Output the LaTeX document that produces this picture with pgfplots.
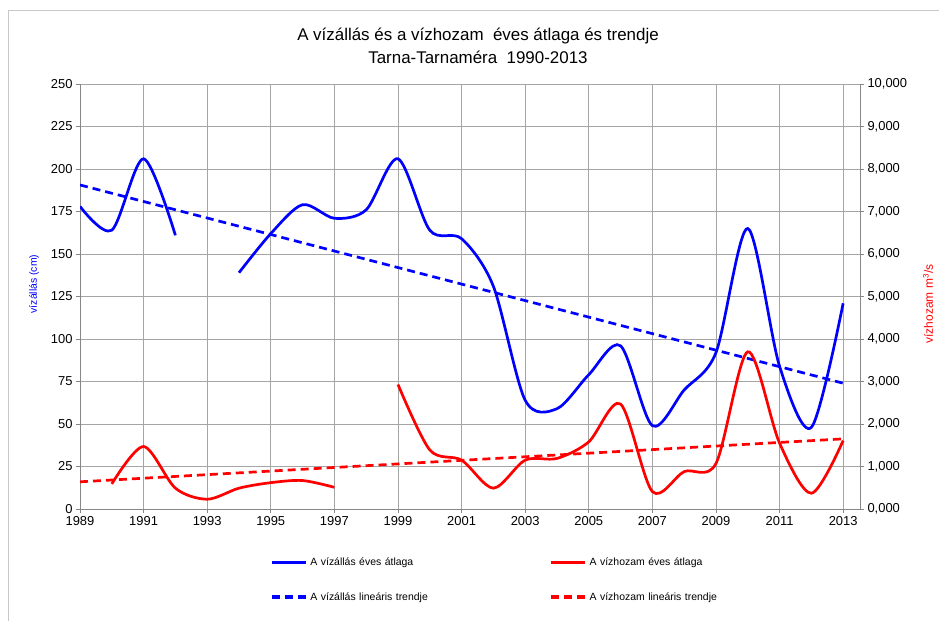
\documentclass[border=0pt]{standalone}
\usepackage{pgfplots}
\pgfplotsset{compat=1.18}
\usepackage{fontspec}
\setmainfont{Liberation Sans}
\definecolor{gridgray}{RGB}{165,165,165}
\definecolor{axgray}{RGB}{135,135,135}
\definecolor{framegray}{RGB}{200,200,200}
\begin{document}
\begin{tikzpicture}
\path[use as bounding box] (0bp,0bp) rectangle (939bp,621bp);
\draw[framegray, line width=1bp] (8bp,-5bp) -- (8bp,610bp) -- (945bp,610bp);
\node[align=center, font=\fontsize{17}{23}\selectfont] at (478bp,575bp) {A vízállás és a vízhozam\ \ éves átlaga és trendje\\Tarna-Tarnaméra\ \ 1990-2013};
\node[rotate=90, blue, font=\fontsize{10.5}{12}\selectfont] at (34bp,337bp) {vízállás (cm)};
\node[rotate=90, red, font=\fontsize{12}{14}\selectfont] at (928bp,317bp) {vízhozam m\textsuperscript{3}/s};
\begin{axis}[
  at={(80bp,112bp)}, anchor=south west, scale only axis,
  width=780bp, height=425bp,
  xmin=1989, xmax=2013.53, ymin=0, ymax=250,
  xtick={1989,1991,...,2013}, ytick={0,25,...,250},
  axis x line*=bottom, axis y line*=left,
  grid=major, grid style={gridgray, line width=0.8bp},
  axis line style={axgray, line width=0.8bp},
  tick style={axgray, line width=0.8bp},
  tick align=outside, major tick length=4bp,
  /pgf/number format/assume math mode=true,
  xticklabel style={/pgf/number format/1000 sep={}},
  ticklabel style={font=\fontsize{13}{13}\selectfont},
]
\addplot[blue, line width=2.7bp, smooth, tension=0.5] coordinates {
 (1989,178) (1990,164) (1991,206) (1992,161)};
\addplot[blue, line width=2.7bp, smooth, tension=0.5] coordinates {
 (1994,139) (1995,162) (1996,179) (1997,171) (1998,176) (1999,206) (2000,164)
 (2001,159) (2002,131) (2003,64) (2004,59) (2005,79) (2006,96) (2007,49)
 (2008,70) (2009,92) (2010,165) (2011,84) (2012,48) (2013,121)};
\addplot[blue, line width=2.7bp, dash pattern=on 8bp off 5bp] coordinates {
 (1989,190.6) (2013,74)};
\end{axis}
\begin{axis}[
  at={(80bp,112bp)}, anchor=south west, scale only axis,
  width=780bp, height=425bp,
  xmin=1989, xmax=2013.53, ymin=0, ymax=10,
  ytick={0,1,...,10},
  axis x line=none, axis y line*=right,
  axis line style={axgray, line width=0.8bp},
  tick style={axgray, line width=0.8bp},
  tick align=outside, major tick length=4bp,
  yticklabel style={font=\fontsize{13}{13}\selectfont,
    /pgf/number format/.cd, fixed, fixed zerofill, precision=3, use comma, assume math mode=true},
  legend columns=2,
  legend cell align=left,
  legend image code/.code={\draw[#1, line width=3.2bp] (0bp,0bp) -- (34bp,0bp);},
  legend style={at={(0.2436,-0.1106)}, anchor=north west, draw=none, fill=none,
    inner sep=0pt, row sep=21bp,
    font=\fontsize{10.5}{12}\selectfont,
    nodes={text width=236bp, inner xsep=3bp, inner ysep=2bp}},
]
\addlegendimage{blue}
\addlegendentry{A vízállás éves átlaga}
\addlegendimage{red}
\addlegendentry{A vízhozam éves átlaga}
\addlegendimage{blue, dash pattern=on 8bp off 5bp}
\addlegendentry{A vízállás lineáris trendje}
\addlegendimage{red, dash pattern=on 8bp off 5bp}
\addlegendentry{A vízhozam lineáris trendje}
\addplot[red, line width=2.7bp, smooth, tension=0.5, forget plot] coordinates {
 (1990,0.59) (1991,1.47) (1992,0.49) (1993,0.23) (1994,0.49) (1995,0.62) (1996,0.67) (1997,0.51)};
\addplot[red, line width=2.7bp, smooth, tension=0.5, forget plot] coordinates {
 (1999,2.93) (2000,1.39) (2001,1.15) (2002,0.49) (2003,1.15) (2004,1.19) (2005,1.58)
 (2006,2.47) (2007,0.41) (2008,0.88) (2009,1.07) (2010,3.70) (2011,1.55) (2012,0.37) (2013,1.61)};
\addplot[red, line width=2.7bp, dash pattern=on 8bp off 5bp, forget plot] coordinates {
 (1989,0.64) (2013,1.65)};
\end{axis}
\end{tikzpicture}
\end{document}
